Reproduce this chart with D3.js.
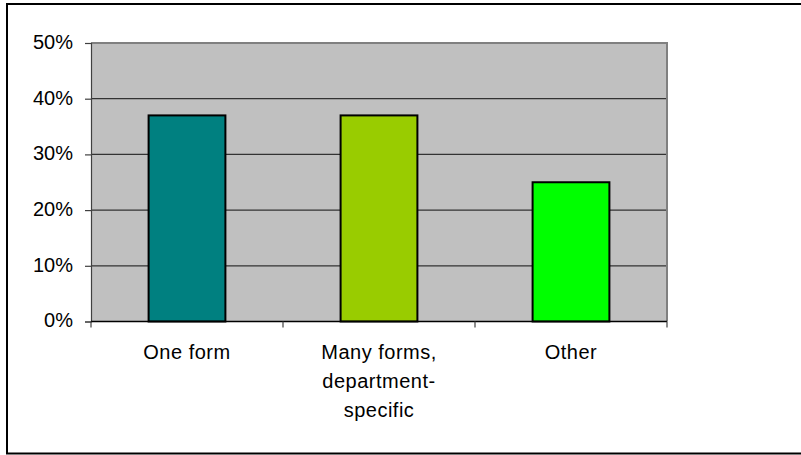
<!DOCTYPE html>
<html>
<head>
<meta charset="utf-8">
<script src="https://cdn.jsdelivr.net/npm/d3@7"></script>
<style>
  html, body { margin: 0; padding: 0; background: #fff; }
  svg { display: block; font-family: Arial, "Liberation Sans", sans-serif; }
</style>
</head>
<body>
<svg id="chart" width="801" height="455"></svg>
<script>
// Survey answers and their shares
const categories = ["One form", "Many forms, department-specific", "Other"];
const labelLines = [["One form"], ["Many forms,", "department-", "specific"], ["Other"]];
const shares = [0.37, 0.37, 0.25];
const barColors = ["#008080", "#99CC00", "#00FF00"];
const yTicks = [0, 0.1, 0.2, 0.3, 0.4, 0.5];

const svg = d3.select("#chart");
const plot = { left: 91, right: 667, top: 43, bottom: 321.5 };

// Outer chart frame (runs off the right edge)
svg.append("rect")
  .attr("x", 7).attr("y", 4)
  .attr("width", 820).attr("height", 449.5)
  .attr("fill", "#fff").attr("stroke", "#000").attr("stroke-width", 2);

const x = d3.scaleBand()
  .domain(categories)
  .range([plot.left, plot.right])
  .paddingInner(0.6)
  .paddingOuter(0.3);

const y = d3.scaleLinear()
  .domain([0, 0.5])
  .range([plot.bottom, plot.top]);

// Plot area background
svg.append("rect")
  .attr("x", plot.left).attr("y", plot.top)
  .attr("width", plot.right - plot.left).attr("height", plot.bottom - plot.top)
  .attr("fill", "#C0C0C0");

// Horizontal gridlines
svg.append("g")
  .selectAll("line")
  .data(yTicks.filter(d => d > 0 && d < 0.5))
  .join("line")
  .attr("x1", plot.left).attr("x2", plot.right)
  .attr("y1", d => y(d)).attr("y2", d => y(d))
  .attr("stroke", "#333").attr("stroke-width", 1.2);

// Top and right plot borders
svg.append("path")
  .attr("d", `M${plot.left},${y(0.5)}H${plot.right}V${plot.bottom}`)
  .attr("fill", "none").attr("stroke", "#808080").attr("stroke-width", 2);

// Bars
svg.append("g")
  .selectAll("rect")
  .data(categories)
  .join("rect")
  .attr("x", d => x(d))
  .attr("y", (d, i) => y(shares[i]))
  .attr("width", x.bandwidth())
  .attr("height", (d, i) => y(0) - y(shares[i]))
  .attr("fill", (d, i) => barColors[i])
  .attr("stroke", "#000").attr("stroke-width", 2);

// Y axis
const yAxis = svg.append("g")
  .attr("transform", `translate(${plot.left},0)`)
  .call(d3.axisLeft(y).tickValues(yTicks).tickSize(6).tickPadding(12)
    .tickFormat(d3.format(".0%")));
yAxis.select(".domain").attr("stroke", "#404040").attr("stroke-width", 1.2);
yAxis.selectAll(".tick line").attr("stroke", "#404040").attr("stroke-width", 1.2);
yAxis.selectAll(".tick text")
  .attr("font-size", 20).attr("fill", "#000").attr("dy", "0.27em")
  .attr("font-family", "Arial, 'Liberation Sans', sans-serif");

// X axis line and category boundary ticks
const gap = (x.step() - x.bandwidth()) / 2;
const bounds = categories.map(c => x(c) - gap).concat([x(categories[categories.length - 1]) + x.bandwidth() + gap]);
svg.append("line")
  .attr("x1", plot.left).attr("x2", plot.right)
  .attr("y1", y(0)).attr("y2", y(0))
  .attr("stroke", "#000").attr("stroke-width", 1.5);
svg.append("g")
  .selectAll("line")
  .data(bounds)
  .join("line")
  .attr("x1", d => d).attr("x2", d => d)
  .attr("y1", y(0)).attr("y2", y(0) + 6)
  .attr("stroke", "#404040").attr("stroke-width", 1.2);

// Category labels
const labels = svg.append("g")
  .selectAll("text")
  .data(categories)
  .join("text")
  .attr("text-anchor", "middle")
  .attr("font-size", 20)
  .attr("letter-spacing", "0.5px")
  .attr("fill", "#000");
labels.each(function(d, i) {
  const cx = x(d) + x.bandwidth() / 2;
  d3.select(this).selectAll("tspan")
    .data(labelLines[i])
    .join("tspan")
    .attr("x", cx)
    .attr("y", (t, j) => 359 + j * 29)
    .text(t => t);
});
</script>
</body>
</html>
